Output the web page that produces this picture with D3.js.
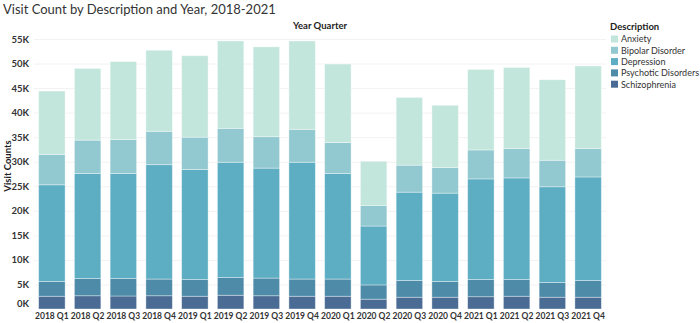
<!DOCTYPE html>
<html>
<head>
<meta charset="utf-8">
<script src="https://cdn.jsdelivr.net/npm/d3@7"></script>
<style>
  body { margin: 0; background: #fff; }
  text { font-family: Lato, "Open Sans", sans-serif; }
</style>
</head>
<body>
<div class="canvas"></div>
<script>
// data (visit counts per quarter)
const quarters = ['2018 Q1','2018 Q2','2018 Q3','2018 Q4','2019 Q1','2019 Q2','2019 Q3','2019 Q4',
                  '2020 Q1','2020 Q2','2020 Q3','2020 Q4','2021 Q1','2021 Q2','2021 Q3','2021 Q4'];
const schizophrenia = [2600, 2700, 2650, 2700, 2600, 2800, 2700, 2600, 2600, 2000, 2400, 2400, 2500, 2600, 2400, 2400];
const psychotic     = [3000, 3500, 3550, 3400, 3400, 3600, 3600, 3500, 3500, 2900, 3400, 3200, 3500, 3400, 3000, 3400];
const depression    = [19700, 21400, 21400, 23300, 22400, 23500, 22400, 23800, 21500, 12000, 18000, 18000, 20500, 20700, 19500, 21100];
const bipolar       = [6200, 6800, 6900, 6800, 6600, 6900, 6400, 6700, 6300, 4200, 5500, 5200, 5900, 6000, 5400, 5800];
const anxiety       = [12900, 14600, 15900, 16500, 16600, 17800, 18300, 18000, 16000, 9000, 13800, 12700, 16400, 16500, 16400, 16800];
const yTicks = [0, 5000, 10000, 15000, 20000, 25000, 30000, 35000, 40000, 45000, 50000, 55000];

const series = [
  {name: 'Anxiety', values: anxiety, color: '#c3e6dc'},
  {name: 'Bipolar Disorder', values: bipolar, color: '#92c9d0'},
  {name: 'Depression', values: depression, color: '#5eaec3'},
  {name: 'Psychotic Disorders', values: psychotic, color: '#4e8ba8'},
  {name: 'Schizophrenia', values: schizophrenia, color: '#4a6b93'}
];
// stack order bottom -> top
const stackKeys = ['Schizophrenia','Psychotic Disorders','Depression','Bipolar Disorder','Anxiety'];

const table = quarters.map((q, i) => {
  const row = {quarter: q};
  series.forEach(s => row[s.name] = s.values[i]);
  return row;
});

const svg = d3.select('.canvas')
    .append('svg')
    .attr('width', 700)
    .attr('height', 323);

const margin = {top: 39, left: 34, right: 94, bottom: 14};
const plotRight = 700 - margin.right;
const plotBottom = 323 - margin.bottom;

const x = d3.scaleBand()
    .domain(quarters)
    .range([margin.left, plotRight])
    .paddingInner(0.26)
    .paddingOuter(0.13);

const y = d3.scaleLinear()
    .domain([0, 55000])
    .range([plotBottom, margin.top]);

const color = d3.scaleOrdinal()
    .domain(series.map(s => s.name))
    .range(series.map(s => s.color));

// title
svg.append('text')
    .attr('x', 3).attr('y', 14)
    .attr('font-size', 13)
    .attr('fill', '#333')
    .text('Visit Count by Description and Year, 2018-2021');

svg.append('text')
    .attr('x', (margin.left + plotRight) / 2).attr('y', 29)
    .attr('text-anchor', 'middle')
    .attr('font-size', 9.5)
    .attr('font-weight', 'bold')
    .attr('fill', '#222')
    .text('Year Quarter');

// gridlines
svg.append('g')
    .selectAll('line')
    .data(yTicks.slice(1))
    .enter().append('line')
    .attr('x1', margin.left).attr('x2', plotRight)
    .attr('y1', d => y(d) + 0.5).attr('y2', d => y(d) + 0.5)
    .attr('stroke', '#f2f2f2');

// y axis
const yAxis = d3.axisLeft(y)
    .tickValues(yTicks)
    .tickSize(0)
    .tickPadding(4)
    .tickFormat(d => (d / 1000) + 'K');

const yAxisGroup = svg.append('g')
    .attr('transform', `translate(${margin.left - 1}, 0)`)
    .call(yAxis);
yAxisGroup.select('.domain').remove();
yAxisGroup.selectAll('text')
    .attr('font-size', 9.5)
    .attr('font-weight', 'bold')
    .attr('fill', '#333')
    .attr('font-family', 'Lato, sans-serif')
    .attr('dy', d => d === 0 ? '-0.25em' : '0.32em');

svg.append('text')
    .attr('transform', `translate(11, 166) rotate(-90)`)
    .attr('text-anchor', 'middle')
    .attr('font-size', 9.5)
    .attr('font-weight', 'bold')
    .attr('fill', '#222')
    .text('Visit Counts');

// stacked bars
const stacked = d3.stack().keys(stackKeys)(table);

svg.append('g')
    .selectAll('g')
    .data(stacked)
    .enter().append('g')
    .attr('fill', d => color(d.key))
    .selectAll('rect')
    .data(d => d)
    .enter().append('rect')
    .attr('x', d => x(d.data.quarter))
    .attr('width', x.bandwidth())
    .attr('y', d => y(d[1]))
    .attr('height', d => y(d[0]) - y(d[1]))
    .attr('stroke', '#ffffff')
    .attr('stroke-opacity', 0.45)
    .attr('stroke-width', 0.8);

// x axis
const xAxis = d3.axisBottom(x).tickSize(0).tickPadding(4);
const xAxisGroup = svg.append('g')
    .attr('transform', `translate(0, ${plotBottom})`)
    .call(xAxis);
xAxisGroup.select('.domain').remove();
xAxisGroup.selectAll('text')
    .attr('font-size', 8.5)
    .attr('font-weight', 'bold')
    .attr('fill', '#333')
    .attr('font-family', 'Lato, sans-serif');

// legend
const legend = svg.append('g').attr('transform', 'translate(610, 0)');
legend.append('text')
    .attr('x', 0).attr('y', 30)
    .attr('font-size', 9.5)
    .attr('font-weight', 'bold')
    .attr('fill', '#222')
    .text('Description');

const items = legend.selectAll('g.item')
    .data(series)
    .enter().append('g')
    .attr('class', 'item')
    .attr('transform', (d, i) => `translate(0, ${39 + i * 11.3})`);

items.append('rect')
    .attr('x', 1).attr('y', -3.5)
    .attr('width', 7).attr('height', 7)
    .attr('fill', d => d.color);

items.append('text')
    .attr('x', 11).attr('y', 3.3)
    .attr('font-size', 9)
    .attr('fill', '#333')
    .text(d => d.name);
</script>
</body>
</html>
